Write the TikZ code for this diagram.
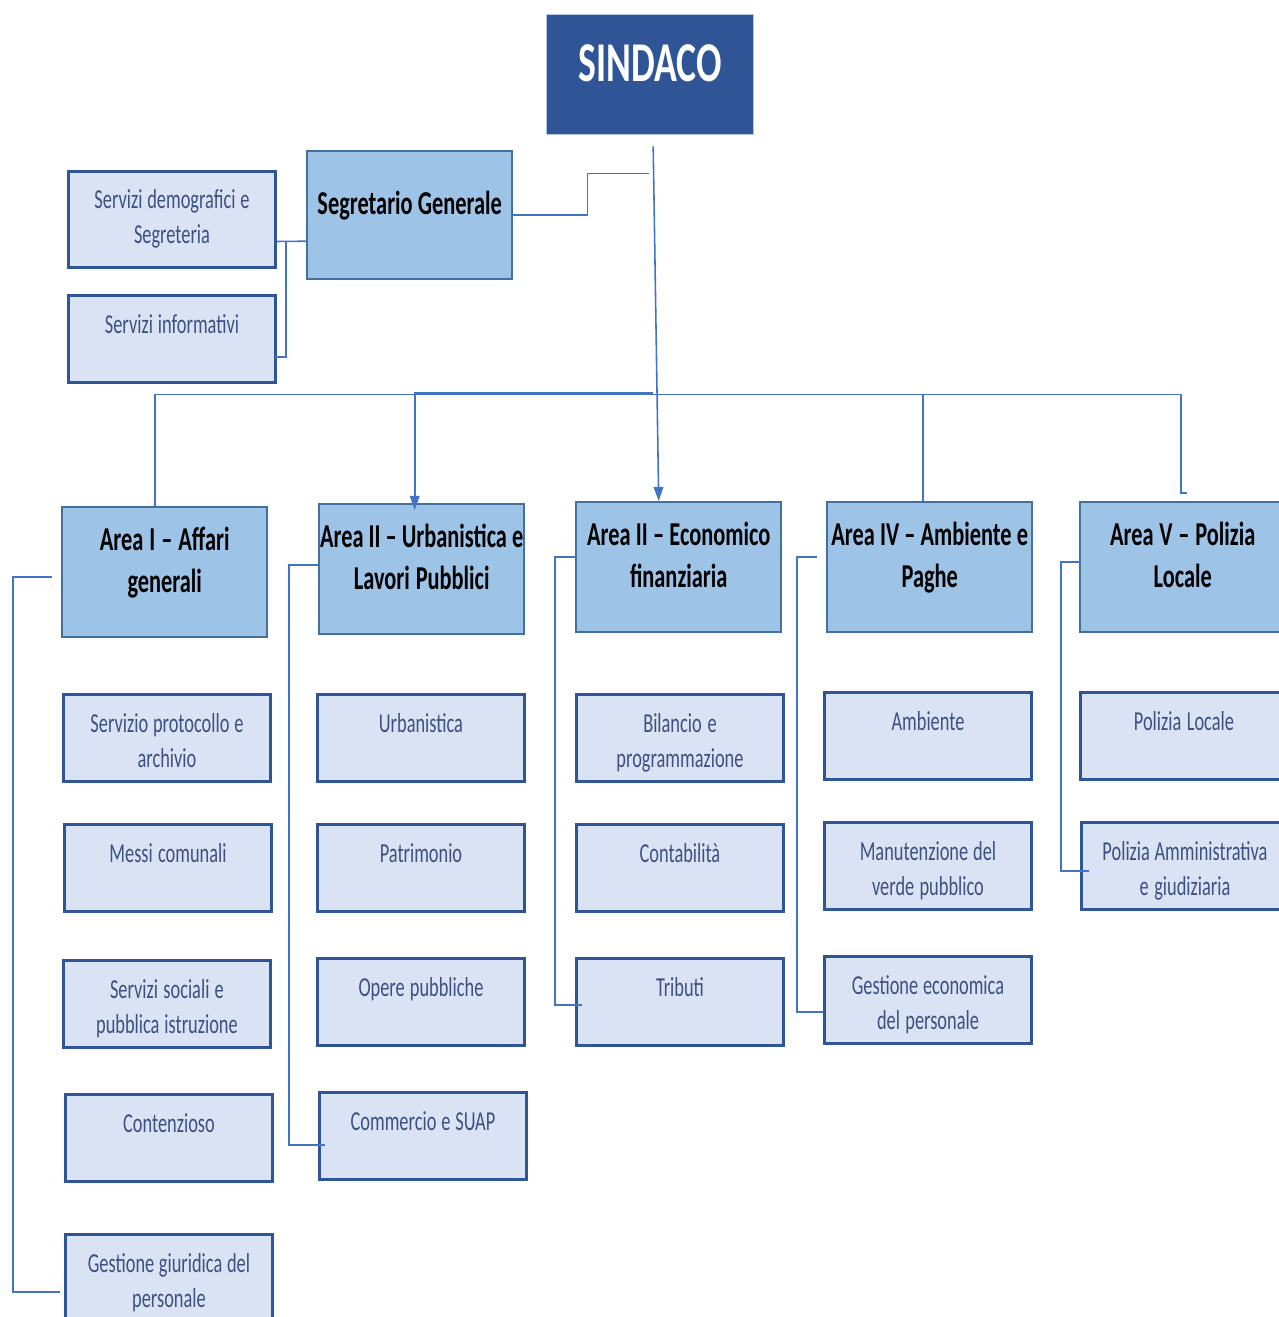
\documentclass[tikz,border=0pt]{standalone}
\usepackage{fontspec}
\setmainfont{Carlito}[FakeStretch=0.67]
\usetikzlibrary{arrows.meta,calc,positioning}
\definecolor{sindblue}{HTML}{2F5597}
\definecolor{sindline}{HTML}{B4C7E7}
\definecolor{areafill}{HTML}{9DC3E6}
\definecolor{arealine}{HTML}{41719C}
\definecolor{subfill}{HTML}{DAE3F3}
\definecolor{subline}{HTML}{2F5597}
\definecolor{subtext}{HTML}{3D5181}
\definecolor{linkblue}{HTML}{4472C4}
\newcommand\tightspace{\spaceskip=0.15em plus 0.05em\relax}
\tikzset{
  sindbox/.style={draw=sindline,line width=0.8pt,fill=sindblue,text=white,
    font=\fontsize{32}{38}\selectfont\bfseries,minimum width=4.14cm,
    inner xsep=0pt,inner ysep=0pt,text height=1.34cm,text depth=1.06cm,anchor=north west},
  areabox/.style={draw=arealine,line width=1.4pt,fill=areafill,
    font=\fontsize{19}{23.8}\selectfont\bfseries,text width=4.1cm,align=center,
    execute at begin node=\tightspace,
    inner xsep=0pt,inner ysep=0pt,text height=0.86cm,text depth=1.74cm,anchor=north west},
  subbox/.style={draw=subline,line width=1.7pt,fill=subfill,text=subtext,
    font=\fontsize{15.6}{19.8}\selectfont,text width=4.14cm,align=center,
    execute at begin node=\tightspace,
    inner xsep=0pt,inner ysep=0pt,text height=0.76cm,text depth=0.98cm,anchor=north west},
  link/.style={draw=linkblue,line width=0.9pt},
  arr/.style={-{Triangle[length=8pt,width=5.5pt]}}
}
\begin{document}
\begin{tikzpicture}[x=0.02cm,y=-0.02cm]
  \useasboundingbox (0,0) rectangle (1278,1317);
  % top level
  \node[sindbox] (sind) at (546,14) {SINDACO};
  \node[areabox,text width=4.1cm,text height=1.26cm,text depth=1.3cm] (segr) at (306,150) {Segretario Generale};
  \node[subbox,text depth=1.18cm,text height=0.74cm] (sdem) at (67,170) {Servizi demografici e\\Segreteria};
  \node[subbox] (sinf) at (67,294) {Servizi informativi};
  % areas
  \node[areabox] (a1) at (61,506) {Area I – Affari\\generali};
  \node[areabox] (a2) at (318,503) {Area II – Urbanistica e\\Lavori Pubblici};
  \node[areabox] (a3) at (575,501) {Area II – Economico\\finanziaria};
  \node[areabox] (a4) at (826,501) {Area IV – Ambiente e\\Paghe};
  \node[areabox] (a5) at (1079,501) {Area V – Polizia\\Locale};
  % offices
  \foreach \n/\x/\y/\t in {
      s11/62/693/{Servizio protocollo e\\archivio},
      s12/63/823/{Messi comunali},
      s13/62/959/{Servizi sociali e\\pubblica istruzione},
      s14/64/1093/{Contenzioso},
      s15/64/1233/{Gestione giuridica del\\personale},
      s21/316/693/{Urbanistica},
      s22/316/823/{Patrimonio},
      s23/316/957/{Opere pubbliche},
      s24/318/1091/{Commercio e SUAP},
      s31/575/693/{Bilancio e\\programmazione},
      s32/575/823/{Contabilità},
      s33/575/957/{Tributi},
      s41/823/691/{Ambiente},
      s42/823/821/{Manutenzione del\\verde pubblico},
      s43/823/955/{Gestione economica\\del personale},
      s51/1079/691/{Polizia Locale},
      s52/1080/821/{Polizia Amministrativa\\e giudiziaria}}
    {\node[subbox] (\n) at (\x,\y) {\t};}
  % connectors
  \coordinate (bus) at ($(sind.south)+(3,259)$);
  \coordinate (d1) at ($(a1.north)+(-10,0)$);
  \coordinate (d2) at ($(a2.north)+(-7,7)$);
  \coordinate (d4) at ($(a4.north)+(-7,0)$);
  \coordinate (d5) at ($(a5.north)+(-2,-8)$);
  \draw[link,arr] ($(sind.south)+(3,11)$) -- ($(a3.north)+(-20,0)$);
  \draw[link] (segr.east) -- ++(74,0) |- ($(sind.south)+(-1,38)$);
  \draw[link] ($(segr.west)+(0,26)$) -- ($(sdem.east)+(0,22)$);
  \draw[link] ($(segr.west)+(-20,26)$) |- ($(sinf.east)+(-2,18)$);
  \draw[link] (d1) |- (bus) -| (d5) -- ++(6,0);
  \draw[link,arr] ($(bus)+(0,-1.5)$) -| (d2);
  \draw[link] (d4) -- (d4 |- bus);
  \draw[link] ($(a1.west)+(-9,5)$) -- ++(-39,0) |- ($(s15.west)+(-4,14)$);
  \draw[link] ($(a2.west)+(0,-4)$) -- ++(-29,0) |- ($(s24.west)+(7,9)$);
  \draw[link] ($(a3.west)+(0,-10)$) -- ++(-20,0) |- ($(s33.west)+(7,3)$);
  \draw[link] ($(a4.west)+(-9,-10)$) -- ++(-20,0) |- ($(s43.west)+(0,12)$);
  \draw[link] ($(a5.west)+(2,-5)$) -- ++(-20,0) |- ($(s52.west)+(9,5)$);
\end{tikzpicture}
\end{document}
